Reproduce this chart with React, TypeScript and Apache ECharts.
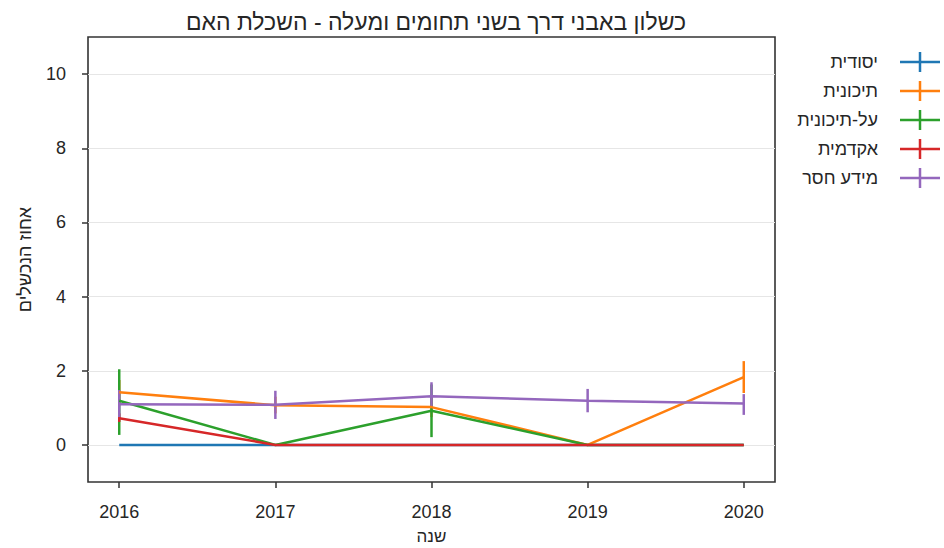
import React, { useEffect, useRef } from "react";
import * as echarts from "echarts";

const years = [2016, 2017, 2018, 2019, 2020];
const seriesNames = ["יסודית", "תיכונית", "על-תיכונית", "אקדמית", "מידע חסר"];
const colors = ["#1f77b4", "#ff7f0e", "#2ca02c", "#d62728", "#9467bd"];

const elementary = [0, 0, 0, 0, 0];
const elementaryLow = [0, 0, 0, 0, 0];
const elementaryHigh = [0, 0, 0, 0, 0];

const highSchool = [1.42, 1.07, 1.02, 0, 1.83];
const highSchoolLow = [1.1, 0.85, 0.75, 0, 1.4];
const highSchoolHigh = [1.75, 1.3, 1.3, 0, 2.26];

const postSecondary = [1.19, 0, 0.92, 0, 0];
const postSecondaryLow = [0.27, 0, 0.21, 0, 0];
const postSecondaryHigh = [2.04, 0, 1.63, 0, 0];

const academic = [0.72, 0, 0, 0, 0];
const academicLow = [0.62, 0, 0, 0, 0];
const academicHigh = [0.85, 0, 0, 0, 0];

const missing = [1.1, 1.08, 1.31, 1.19, 1.12];
const missingLow = [0.75, 0.7, 1.0, 0.88, 0.81];
const missingHigh = [1.48, 1.46, 1.69, 1.51, 1.37];

const yTicks = [0, 2, 4, 6, 8, 10];

const titleText = "כשלון באבני דרך בשני תחומים ומעלה - השכלת האם";
const xName = "שנה";
const yName = "אחוז הנכשלים";

const FONT = "Liberation Sans, Arial, sans-serif";
const TEXT = "#262626";

export default function App() {
  const ref = useRef<HTMLDivElement>(null);
  useEffect(() => {
    if (!ref.current) return;
    const chart = echarts.init(ref.current, undefined, { renderer: "svg" });
    const groups = [
      [elementary, elementaryLow, elementaryHigh],
      [highSchool, highSchoolLow, highSchoolHigh],
      [postSecondary, postSecondaryLow, postSecondaryHigh],
      [academic, academicLow, academicHigh],
      [missing, missingLow, missingHigh],
    ];
    const series: any[] = [];
    groups.forEach((g, i) => {
      const [vals, lo, hi] = g;
      series.push({
        type: "line",
        name: seriesNames[i],
        data: years.map((y, k) => [y, vals[k]]),
        symbol: "none",
        lineStyle: { color: colors[i], width: 2.5 },
        itemStyle: { color: colors[i] },
        z: 2,
      });
      series.push({
        type: "custom",
        name: seriesNames[i] + " err",
        data: years.map((y, k) => [y, lo[k], hi[k]]),
        renderItem: (params: any, api: any) => {
          const x = api.value(0);
          const p1 = api.coord([x, api.value(1)]);
          const p2 = api.coord([x, api.value(2)]);
          return {
            type: "line",
            shape: { x1: p1[0], y1: p1[1], x2: p2[0], y2: p2[1] },
            style: { stroke: colors[i], lineWidth: 2.5 },
          };
        },
        z: 2,
      });
    });

    const legendGraphics: any[] = [];
    seriesNames.forEach((n, i) => {
      const y = 62 + 29 * i;
      legendGraphics.push({
        type: "text",
        x: 878,
        y,
        style: {
          text: n,
          fill: TEXT,
          font: `18px ${FONT}`,
          align: "right",
          verticalAlign: "middle",
        },
      });
      legendGraphics.push({
        type: "line",
        shape: { x1: 900, y1: y, x2: 940, y2: y },
        style: { stroke: colors[i], lineWidth: 2.5 },
      });
      legendGraphics.push({
        type: "line",
        shape: { x1: 920, y1: y - 10, x2: 920, y2: y + 10 },
        style: { stroke: colors[i], lineWidth: 2.5 },
      });
    });

    chart.setOption({
      animation: false,
      backgroundColor: "#ffffff",
      title: {
        text: titleText,
        left: 431,
        top: 5,
        textAlign: "center",
        textStyle: { fontFamily: FONT, fontSize: 23, fontWeight: "normal", color: TEXT },
      },
      grid: {
        left: 88,
        top: 37,
        width: 687,
        height: 445,
        show: true,
        borderColor: "#333333",
        borderWidth: 1.6,
        containLabel: false,
        outerBoundsMode: "none",
      },
      xAxis: {
        type: "value",
        min: 2015.8,
        max: 2020.2,
        name: xName,
        nameLocation: "middle",
        nameGap: 46,
        nameTextStyle: { fontFamily: FONT, fontSize: 17, color: TEXT },
        axisLine: { show: false, onZero: false },
        axisTick: {
          show: true,
          customValues: years,
          length: 6,
          lineStyle: { color: "#333333", width: 1.5 },
        },
        axisLabel: {
          customValues: years,
          margin: 21,
          fontFamily: FONT,
          fontSize: 18,
          color: TEXT,
          formatter: (v: number) => String(Math.round(v)),
        },
        splitLine: { show: false },
      },
      yAxis: {
        type: "value",
        min: -1,
        max: 11,
        name: yName,
        nameLocation: "middle",
        nameGap: 54,
        nameRotate: 90,
        nameTextStyle: { fontFamily: FONT, fontSize: 18, color: TEXT },
        axisLine: { show: false, onZero: false },
        axisTick: {
          show: true,
          customValues: yTicks,
          length: 6,
          lineStyle: { color: "#333333", width: 1.5 },
        },
        axisLabel: {
          customValues: yTicks,
          margin: 22,
          fontFamily: FONT,
          fontSize: 18,
          color: TEXT,
        },
        splitLine: { show: true, lineStyle: { color: "#e6e6e6", width: 1 } },
      },
      series,
      graphic: legendGraphics,
    });
    return () => chart.dispose();
  }, []);
  return (
    <div
      ref={ref}
      style={{ position: "absolute", left: 0, top: 0, width: 944, height: 548 }}
    />
  );
}
